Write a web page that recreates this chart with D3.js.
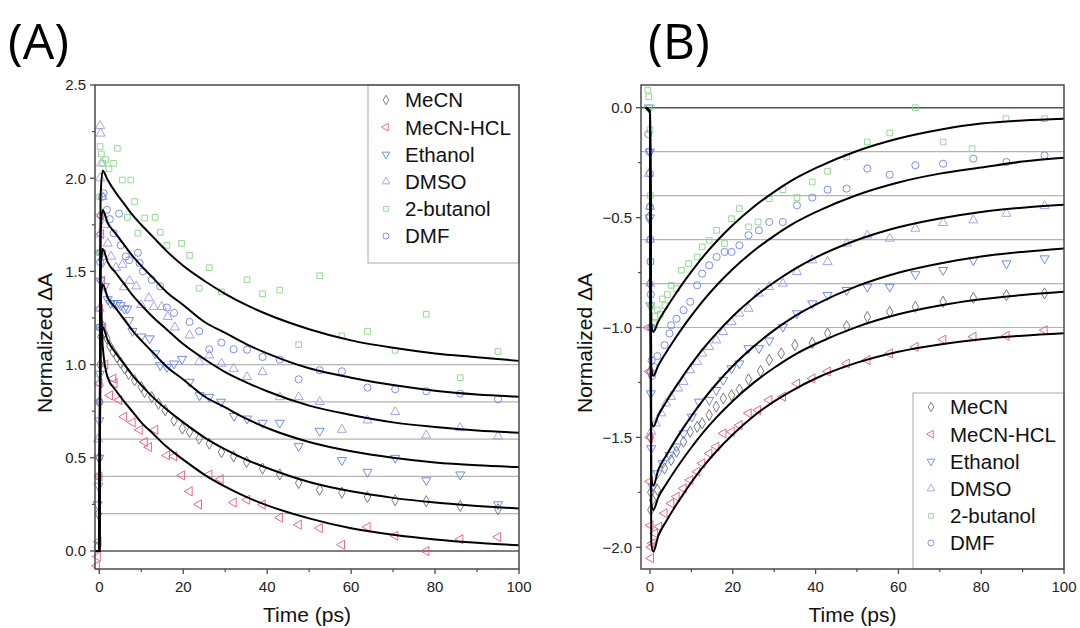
<!DOCTYPE html>
<html><head><meta charset="utf-8">
<script src="https://cdn.jsdelivr.net/npm/d3@7"></script>
<style>body{margin:0;background:#fff}svg{display:block}</style>
</head><body>
<svg id="c" width="1080" height="628"></svg>
<script>
// ---------- DATA ----------
const seriesNames = ["MeCN","MeCN-HCL","Ethanol","DMSO","2-butanol","DMF"];
const seriesColors = ["#6b6b6b","#e9557e","#5d7fe6","#a396e6","#86d886","#6f82e0"];
const seriesShapes = ["diamond","left","down","up","square","circle"];
const xTicks = [0,20,40,60,80,100];
const xMinorTicks = [10,30,50,70,90];
const yTicksA = [0.0,0.5,1.0,1.5,2.0,2.5];
const yMinorA = [0.25,0.75,1.25,1.75,2.25];
const yTicksB = [-2.0,-1.5,-1.0,-0.5,0.0];
const yMinorB = [-1.75,-1.25,-0.75,-0.25];
const baselinesA = [0.2,0.4,0.6,0.8,1.0];
const baselinesB = [-0.2,-0.4,-0.6,-0.8,-1.0];

// measured points, panel A  [time, value]
const A_MeCN = [[-0.5,0.02],[-0.2,0.2],[0,0.5],[0.1,0.8],[0.2,1.0],[0.4,1.15],[0.7,1.21],[1.2,1.17],[1.8,1.14],[2.5,1.1],[3.3,1.07],[4.2,1.04],[5.1,1.01],[6,0.98],[7,0.95],[8.4,0.916],[10,0.88],[10.8,0.853],[12.5,0.826],[14.1,0.79],[15.7,0.755],[17.8,0.70],[19.8,0.657],[21.5,0.639],[23.8,0.603],[26.2,0.576],[29.1,0.531],[32,0.508],[35.1,0.478],[38.9,0.442],[43,0.411],[47.5,0.365],[52.5,0.329],[57.8,0.313],[63.9,0.29],[70.5,0.272],[77.9,0.267],[86,0.242],[95,0.224]];
const A_HCL = [[-0.6,-0.08],[-0.4,-0.03],[-0.2,0.05],[0,0.4],[0,0.9],[0.1,1.3],[0.2,1.6],[0.3,1.8],[0.4,1.7],[0.6,1.45],[0.9,1.2],[1.4,1.0],[2.5,0.835],[3.3,0.925],[3.6,0.9],[4.7,0.81],[5.9,0.72],[7.9,0.69],[9.6,0.65],[10.8,0.585],[11.8,0.558],[13.3,0.65],[16.1,0.513],[17.8,0.508],[19.7,0.406],[21.5,0.32],[23.7,0.25],[26.2,0.41],[28.9,0.385],[32,0.26],[35.2,0.275],[38.9,0.249],[43,0.179],[47.5,0.141],[52.5,0.123],[57.8,0.034],[63.9,0.129],[70.5,0.082],[77.9,0.0],[86,0.063],[95,0.075]];
const A_Ethanol = [[-0.4,0.25],[-0.2,0.35],[0,0.5],[0,0.7],[0.1,0.95],[0.2,1.2],[0.3,1.45],[0.5,1.6],[0.8,1.55],[1.3,1.42],[2,1.35],[2.7,1.33],[3.4,1.327],[4.3,1.33],[5.1,1.318],[6,1.3],[6.7,1.30],[7.1,1.238],[7.9,1.18],[10,1.15],[12,1.14],[13.3,1.06],[14.5,0.996],[16.1,0.987],[17.8,1.005],[19.7,1.03],[21.5,0.907],[23.9,0.835],[26.2,0.826],[29,0.8],[32.1,0.724],[35.2,0.71],[38.9,0.687],[43,0.687],[47.5,0.562],[52.5,0.644],[57.8,0.487],[63.9,0.424],[70.5,0.499],[77.9,0.379],[86,0.41],[95,0.25]];
const A_DMSO = [[-0.3,0.6],[0,0.9],[0.1,1.3],[0.1,1.7],[0.2,2.0],[0.2,2.28],[0.3,2.24],[0.5,2.08],[0.8,1.9],[1.3,1.75],[2,1.65],[2.8,1.58],[4,1.52],[5.5,1.536],[5.9,1.416],[7.2,1.45],[8.8,1.42],[10,1.32],[11.8,1.357],[13,1.31],[14.9,1.31],[16.3,1.256],[18,1.2],[21.5,1.157],[23.8,1.014],[26.2,1.05],[29.1,1.005],[32,0.978],[35.2,0.934],[38.9,0.96],[43,0.826],[47.5,0.826],[52.5,0.80],[57.8,0.651],[63.9,0.701],[70.5,0.746],[77.9,0.621],[86,0.66],[95,0.615]];
const A_Butanol = [[-0.2,0.95],[0,1.2],[0,1.6],[0.1,1.9],[0.2,2.17],[0.5,2.13],[0.8,2.08],[1.5,2.1],[2.3,2.05],[3.4,2.08],[4.3,2.16],[5.5,1.99],[6.7,1.79],[7.5,1.99],[8.4,1.875],[9.2,1.705],[10.8,1.786],[13.3,1.79],[14.5,1.71],[16.1,1.64],[19.6,1.65],[21.5,1.586],[23.8,1.41],[26.2,1.52],[29.1,1.39],[35.2,1.455],[38.9,1.38],[43,1.40],[47.5,1.107],[52.5,1.477],[57.8,1.154],[63.9,1.179],[70.5,1.077],[77.9,1.27],[86,0.93],[95,1.07]];
const A_DMF = [[-0.3,0.4],[0,0.8],[0.1,1.2],[0.2,1.55],[0.4,1.8],[0.7,1.9],[1,1.92],[1.8,1.83],[2.5,1.78],[3.4,1.705],[4.7,1.81],[5.1,1.64],[6.3,1.58],[7.1,1.56],[9.2,1.6],[9.6,1.545],[10.4,1.50],[12.5,1.455],[14.5,1.42],[16.1,1.306],[17.8,1.277],[21.5,1.229],[23.8,1.179],[26.2,1.082],[29.1,1.118],[32,1.082],[35.2,1.08],[38.9,1.041],[43,1.027],[47.5,0.921],[52.5,0.97],[57.8,0.964],[63.9,0.877],[70.5,0.868],[77.9,0.857],[86,0.844],[95,0.814]];

// fitted curves, read at these times
const fitT = [-1,0,0.3,0.8,2,4,6,8,10,13,16,20,25,30,35,40,50,60,70,80,90,100];
const fitA_MeCN    = [0,0,1.15,1.2,1.13,1.06,1.0,0.94,0.89,0.82,0.76,0.69,0.61,0.545,0.49,0.445,0.37,0.32,0.285,0.26,0.242,0.228];
const fitA_HCL     = [0,0,1.38,1.1,0.93,0.86,0.80,0.745,0.69,0.625,0.56,0.49,0.41,0.345,0.29,0.245,0.175,0.122,0.087,0.062,0.044,0.031];
const fitA_Ethanol = [0,0,1.32,1.43,1.36,1.30,1.24,1.18,1.13,1.06,0.99,0.92,0.83,0.77,0.71,0.66,0.585,0.535,0.50,0.475,0.46,0.45];
const fitA_DMSO    = [0,0,1.5,1.62,1.55,1.49,1.43,1.37,1.32,1.25,1.19,1.11,1.03,0.96,0.905,0.857,0.78,0.73,0.69,0.665,0.646,0.635];
const fitA_Butanol = [0,0,1.9,2.04,1.99,1.92,1.86,1.80,1.75,1.68,1.61,1.53,1.45,1.38,1.32,1.27,1.19,1.13,1.09,1.06,1.04,1.02];
const fitA_DMF     = [0,0,1.7,1.83,1.76,1.70,1.64,1.58,1.53,1.46,1.39,1.32,1.23,1.17,1.11,1.06,0.98,0.93,0.89,0.86,0.84,0.828];

// measured points, panel B
const B_MeCN = [[-0.3,-0.5],[0,-0.8],[0,-1.2],[0.1,-1.5],[0.2,-1.75],[0.2,-1.83],[0.6,-1.785],[1.8,-1.739],[3.5,-1.641],[5.1,-1.603],[6.4,-1.565],[8.1,-1.52],[9.7,-1.474],[11.4,-1.452],[12.6,-1.436],[14.3,-1.398],[16,-1.36],[17.7,-1.323],[19.7,-1.308],[21.6,-1.282],[23.8,-1.236],[26.7,-1.198],[28.8,-1.148],[31.7,-1.118],[35,-1.08],[39.2,-1.07],[42.9,-1.027],[47.5,-0.994],[52.5,-0.952],[57.9,-0.929],[64.1,-0.906],[70.8,-0.883],[78.1,-0.865],[86.1,-0.853],[95.3,-0.845]];
const B_HCL = [[-0.4,-1.0],[-0.2,-1.2],[0,-1.5],[0,-1.7],[0.1,-1.9],[0.2,-2.05],[0.3,-2.0],[0.6,-1.982],[1.2,-1.936],[2.2,-1.906],[3.5,-1.845],[5.1,-1.8],[6.4,-1.77],[8.1,-1.732],[9.7,-1.694],[11.4,-1.656],[12.6,-1.618],[14.3,-1.573],[16,-1.542],[17.7,-1.482],[19.7,-1.474],[21.6,-1.444],[23.8,-1.39],[26.1,-1.376],[28.8,-1.33],[32.1,-1.315],[35.5,-1.255],[39.2,-1.232],[42.9,-1.2],[47.5,-1.164],[52.5,-1.148],[57.9,-1.118],[64.1,-1.088],[70.8,-1.055],[78.1,-1.042],[86.1,-1.038],[95.3,-1.012]];
const B_Ethanol = [[-0.3,0.0],[0,-0.2],[0,-0.5],[0.1,-0.9],[0.2,-1.3],[0.3,-1.55],[0.6,-1.724],[1.8,-1.664],[3.1,-1.618],[4.7,-1.58],[6.4,-1.542],[8.1,-1.482],[10.1,-1.406],[11.8,-1.338],[14.3,-1.33],[16,-1.285],[17.7,-1.239],[19.7,-1.186],[21.6,-1.164],[23.8,-1.095],[26.3,-1.095],[28.8,-1.06],[32.1,-0.997],[35.5,-0.936],[39.2,-0.891],[42.9,-0.853],[47.5,-0.83],[52.5,-0.815],[57.9,-0.815],[64.1,-0.758],[70.8,-0.739],[78.1,-0.694],[86.1,-0.709],[95.3,-0.686]];
const B_DMSO = [[-0.3,-0.3],[0,-0.45],[0,-0.6],[0.1,-0.8],[0.2,-1.0],[0.2,-1.2],[0.3,-1.474],[1.4,-1.436],[2.7,-1.39],[3.9,-1.345],[5.1,-1.315],[6.8,-1.277],[8.1,-1.247],[9.7,-1.194],[11.4,-1.156],[12.6,-1.118],[14.3,-1.088],[16,-1.058],[17.7,-1.02],[19.7,-0.974],[21.6,-0.936],[23.8,-0.914],[26.3,-0.845],[28.8,-0.815],[32.1,-0.8],[35.5,-0.747],[39.2,-0.694],[42.9,-0.702],[47.5,-0.618],[52.5,-0.58],[57.9,-0.595],[64.1,-0.55],[70.8,-0.524],[78.1,-0.512],[86.1,-0.482],[95.3,-0.447]];
const B_Butanol = [[-0.5,0.08],[-0.3,0.05],[-0.2,0.0],[0,-0.1],[0.1,-0.4],[0.2,-0.7],[0.3,-0.9],[0.5,-1.0],[0.8,-0.98],[1.2,-0.95],[1.8,-0.92],[2.5,-0.94],[3,-0.87],[3.6,-0.9],[4.2,-0.85],[5.1,-0.808],[6.4,-0.823],[7.6,-0.739],[9.3,-0.709],[11.4,-0.679],[12.6,-0.633],[14.3,-0.603],[16.1,-0.558],[18,-0.618],[19.7,-0.505],[21.6,-0.459],[23.8,-0.542],[26.1,-0.52],[28.8,-0.414],[32.1,-0.373],[35.5,-0.409],[39.2,-0.338],[42.9,-0.289],[47.5,-0.224],[52.5,-0.156],[57.9,-0.115],[64.1,0.0],[70.8,-0.156],[77.8,-0.186],[86,-0.05],[95.3,-0.05]];
const B_DMF = [[-0.4,-0.12],[-0.2,-0.2],[0,-0.3],[0,-0.45],[0.1,-0.6],[0.1,-0.7],[0.2,-0.85],[0.3,-1.0],[0.4,-1.15],[0.5,-1.22],[1,-1.18],[1.8,-1.13],[3.5,-1.08],[4.7,-1.027],[5.1,-0.99],[6.4,-0.96],[8.1,-0.921],[9.7,-0.883],[11.4,-0.808],[12.6,-0.755],[14.3,-0.717],[16.1,-0.679],[18,-0.656],[19.7,-0.656],[21.6,-0.626],[23.8,-0.58],[26.3,-0.558],[28.8,-0.52],[32.1,-0.52],[35.5,-0.444],[39.2,-0.409],[42.9,-0.373],[47.5,-0.368],[52.5,-0.277],[57.9,-0.305],[64.1,-0.262],[70.8,-0.255],[78.1,-0.232],[86.1,-0.247],[95.3,-0.217]];

const fitB_MeCN    = [0,-0.02,-1.8,-1.83,-1.773,-1.71,-1.652,-1.597,-1.546,-1.474,-1.41,-1.334,-1.252,-1.183,-1.123,-1.075,-0.997,-0.94,-0.90,-0.872,-0.852,-0.837];
const fitB_HCL     = [0,-0.02,-1.98,-2.02,-1.948,-1.879,-1.817,-1.759,-1.704,-1.63,-1.564,-1.487,-1.404,-1.336,-1.28,-1.232,-1.16,-1.11,-1.077,-1.053,-1.037,-1.026];
const fitB_Ethanol = [0,-0.02,-1.68,-1.72,-1.648,-1.58,-1.517,-1.458,-1.403,-1.326,-1.257,-1.175,-1.087,-1.012,-0.948,-0.896,-0.812,-0.751,-0.709,-0.677,-0.656,-0.64];
const fitB_DMSO    = [0,-0.02,-1.42,-1.45,-1.40,-1.336,-1.276,-1.22,-1.167,-1.093,-1.028,-0.949,-0.865,-0.794,-0.733,-0.682,-0.602,-0.544,-0.504,-0.474,-0.455,-0.442];
const fitB_Butanol = [0,-0.02,-0.98,-1.02,-0.973,-0.91,-0.852,-0.797,-0.746,-0.674,-0.61,-0.534,-0.452,-0.383,-0.323,-0.275,-0.197,-0.14,-0.10,-0.072,-0.058,-0.05];
const fitB_DMF     = [0,-0.02,-1.18,-1.22,-1.173,-1.11,-1.052,-0.997,-0.946,-0.874,-0.81,-0.734,-0.652,-0.583,-0.523,-0.475,-0.397,-0.34,-0.30,-0.272,-0.245,-0.228];

// ---------- DRAW ----------
const svg = d3.select("#c");
const FONT = "'Liberation Sans', Arial, sans-serif";

function markerPath(shape){
  const m = {diamond:[d3.symbolDiamond,36,0], left:[d3.symbolTriangle,36,-90], down:[d3.symbolTriangle,36,180],
             up:[d3.symbolTriangle,36,0], square:[d3.symbolSquare,32,0], circle:[d3.symbolCircle,40,0]}[shape];
  return {d: d3.symbol().type(m[0]).size(m[1])(), rot: m[2]};
}

function panel(cfg){
  const g = svg.append("g");
  const x = d3.scaleLinear().domain([0,100]).range(cfg.x0100);
  const y = d3.scaleLinear().domain(cfg.yRef).range(cfg.yRefPx);
  const L = cfg.frame[0], R = cfg.frame[1], T = cfg.frame[2], B = cfg.frame[3];

  // baseline grid lines
  g.selectAll("line.base").data(cfg.baselines).join("line")
    .attr("x1",L).attr("x2",R).attr("y1",d=>y(d)).attr("y2",d=>y(d))
    .attr("stroke","#b4b4b4").attr("stroke-width",1.2);
  g.append("line").attr("x1",L).attr("x2",R).attr("y1",y(0)).attr("y2",y(0))
    .attr("stroke","#555").attr("stroke-width",1.6);

  // points
  cfg.points.forEach((pts,i)=>{
    const mp = markerPath(seriesShapes[i]);
    g.append("g").selectAll("path").data(pts).join("path")
      .attr("d",mp.d)
      .attr("transform",d=>`translate(${x(d[0])},${y(d[1])}) rotate(${mp.rot})`)
      .attr("fill","none").attr("stroke",seriesColors[i]).attr("stroke-width",0.9);
  });

  // fit curves
  const line = d3.line().x(d=>x(d[0])).y(d=>y(d[1])).curve(d3.curveMonotoneX);
  cfg.fits.forEach(f=>{
    g.append("path").attr("d",line(fitT.map((t,k)=>[t,f[k]])))
      .attr("fill","none").attr("stroke","#000").attr("stroke-width",2);
  });

  // legend
  const lg = g.append("g");
  const [lx,ly,lw,lh] = cfg.legend;
  lg.append("rect").attr("x",lx).attr("y",ly).attr("width",lw).attr("height",lh)
    .attr("fill","#fff").attr("stroke","#a8a8a8").attr("stroke-width",1);
  seriesNames.forEach((n,i)=>{
    const cy = ly + cfg.legRow0 + i*cfg.legStep;
    const mp = markerPath(seriesShapes[i]);
    lg.append("path").attr("d",mp.d).attr("transform",`translate(${lx+18},${cy}) rotate(${mp.rot}) scale(0.85)`)
      .attr("fill","none").attr("stroke",seriesColors[i]).attr("stroke-width",1);
    lg.append("text").attr("x",lx+37).attr("y",cy).attr("dy","0.36em")
      .attr("font-family",FONT).attr("font-size",20.5).attr("fill","#111").text(n);
  });

  // frame
  g.append("rect").attr("x",L).attr("y",T).attr("width",R-L).attr("height",B-T)
    .attr("fill","none").attr("stroke","#4a4a4a").attr("stroke-width",1.5);

  // x ticks
  g.selectAll("line.xt").data(xTicks).join("line")
    .attr("x1",d=>x(d)).attr("x2",d=>x(d)).attr("y1",B).attr("y2",B+5).attr("stroke","#4a4a4a").attr("stroke-width",1.3);
  g.selectAll("line.xm").data(xMinorTicks).join("line")
    .attr("x1",d=>x(d)).attr("x2",d=>x(d)).attr("y1",B).attr("y2",B+3).attr("stroke","#4a4a4a").attr("stroke-width",1.2);
  g.selectAll("text.xl").data(xTicks).join("text")
    .attr("x",d=>x(d)).attr("y",B+23).attr("text-anchor","middle")
    .attr("font-family",FONT).attr("font-size",15).attr("fill","#222").text(d=>d);
  // y ticks
  g.selectAll("line.yt").data(cfg.yTicks).join("line")
    .attr("x1",L-5).attr("x2",L).attr("y1",d=>y(d)).attr("y2",d=>y(d)).attr("stroke","#4a4a4a").attr("stroke-width",1.3);
  g.selectAll("line.ym").data(cfg.yMinor).join("line")
    .attr("x1",L-3).attr("x2",L).attr("y1",d=>y(d)).attr("y2",d=>y(d)).attr("stroke","#4a4a4a").attr("stroke-width",1.2);
  g.selectAll("text.yl").data(cfg.yTicks).join("text")
    .attr("x",L-9).attr("y",d=>y(d)).attr("dy","0.36em").attr("text-anchor","end")
    .attr("font-family",FONT).attr("font-size",15).attr("fill","#222").text(d=>d3.format(".1f")(d));

  // axis titles
  g.append("text").attr("transform",`translate(${cfg.yTitleX},343) rotate(-90)`).attr("text-anchor","middle")
    .attr("font-family",FONT).attr("font-size",21).attr("fill","#111").text("Normalized \u0394A");
  g.append("text").attr("x",(L+R)/2).attr("y",622).attr("text-anchor","middle")
    .attr("font-family",FONT).attr("font-size",21).attr("fill","#111").text("Time (ps)");
  // panel label
  g.append("text").attr("x",cfg.labelX).attr("y",59)
    .attr("font-family","'Open Sans', 'Noto Sans', sans-serif").attr("font-size",50).attr("fill","#000").text(cfg.label);
}

panel({
  x0100:[99.3,519], yRef:[0,2.5], yRefPx:[551,85], frame:[95,519,85,569],
  baselines: baselinesA, yTicks: yTicksA, yMinor: yMinorA,
  points:[A_MeCN,A_HCL,A_Ethanol,A_DMSO,A_Butanol,A_DMF],
  fits:[fitA_MeCN,fitA_HCL,fitA_Ethanol,fitA_DMSO,fitA_Butanol,fitA_DMF],
  legend:[368,85,151,178], legRow0:15, legStep:27.2,
  yTitleX:52, label:"(A)", labelX:8
});
panel({
  x0100:[650,1064], yRef:[-2,0], yRefPx:[547.3,107.7], frame:[641,1064,85,569],
  baselines: baselinesB, yTicks: yTicksB, yMinor: yMinorB,
  points:[B_MeCN,B_HCL,B_Ethanol,B_DMSO,B_Butanol,B_DMF],
  fits:[fitB_MeCN,fitB_HCL,fitB_Ethanol,fitB_DMSO,fitB_Butanol,fitB_DMF],
  legend:[913,393,151,176], legRow0:14, legStep:27.2,
  yTitleX:592, label:"(B)", labelX:648
});
</script>
</body></html>
